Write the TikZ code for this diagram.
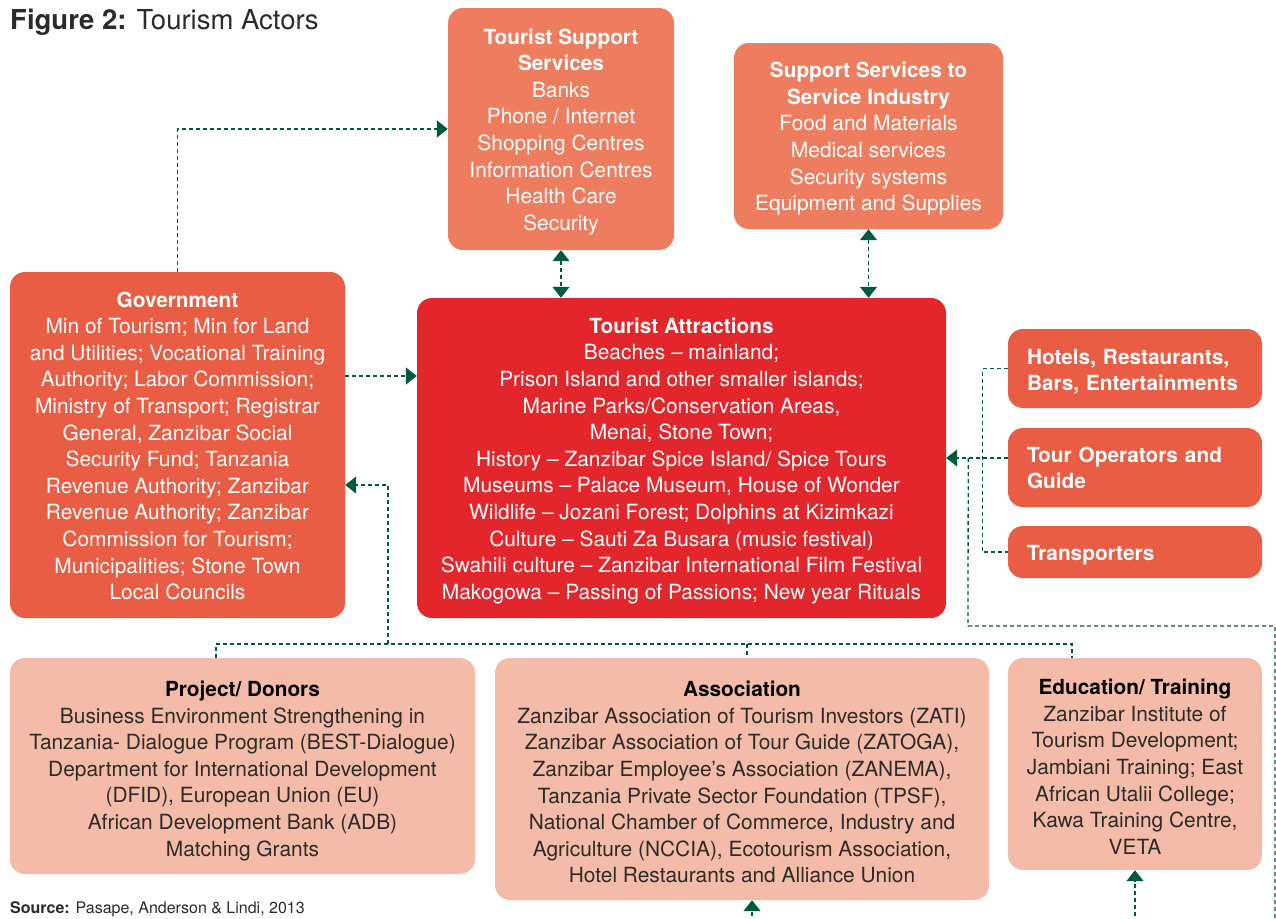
\documentclass[tikz,border=0pt]{standalone}
\usepackage{fontspec}
\setmainfont{TeX Gyre Heros}
\usetikzlibrary{arrows.meta,positioning}
\definecolor{supp}{HTML}{EE7D60}
\definecolor{govc}{HTML}{E85D43}
\definecolor{attr}{HTML}{E3262B}
\definecolor{base}{HTML}{F4BCA8}
\definecolor{lnk}{HTML}{005A3C}
\definecolor{ink}{HTML}{2B2B2B}
\newcommand{\boxfont}{\fontsize{20.9}{26.6}\selectfont}
% heading line; the strut sets how far the block sits down in its box
\newcommand{\hd}[2][21pt]{\rule{0pt}{#1}\textbf{\fontsize{20.8}{26.6}\selectfont #2}}
\tikzset{
  actor/.style={rounded corners=15pt, align=center, inner sep=0pt, font=\boxfont},
  supbox/.style={actor, fill=supp, text=white},
  govbox/.style={actor, fill=govc, text=white},
  attbox/.style={actor, fill=attr, text=white},
  sidebox/.style={actor, fill=govc, text=white, align=left, inner xsep=19pt, text width=216pt},
  basebox/.style={actor, fill=base, text=ink},
  link/.style={lnk, line width=1.3pt, dash pattern=on 4pt off 3pt},
  gtri/.tip={Triangle[width=17pt,length=11pt]},
}

\begin{document}
\begin{tikzpicture}[x=1pt,y=-1pt]
 \useasboundingbox (0,0) rectangle (1276,918);
 \node[anchor=base west, inner sep=0pt, text=ink, font=\fontsize{27.5}{33}\selectfont] (title) at (10,29) {\textbf{Figure 2:} Tourism Actors};
 % top row
 \node[supbox, minimum width=226pt, minimum height=242pt] (tss) at (561,129)
  {\hd{Tourist Support}\\\hd{Services}\\Banks\\Phone / Internet\\Shopping Centres\\Information Centres\\Health Care\\Security};
 \node[supbox, minimum width=269pt, minimum height=186pt] (sssi) at (868.5,136)
  {\hd{Support Services to}\\\hd{Service Industry}\\Food and Materials\\Medical services\\Security systems\\Equipment and Supplies};
 % middle row
 \node[govbox, minimum width=335pt, minimum height=346pt] (gov) at (177.5,445)
  {\hd[17pt]{Government}\\Min of Tourism; Min for Land\\and Utilities; Vocational Training\\Authority; Labor Commission;\\Ministry of Transport; Registrar\\General, Zanzibar Social\\Security Fund; Tanzania\\Revenue Authority; Zanzibar\\Revenue Authority; Zanzibar\\Commission for Tourism;\\Municipalities; Stone Town\\Local Councils};
 \node[attbox, minimum width=529pt, minimum height=320pt] (ta) at (681.5,458)
  {\hd{Tourist Attractions}\\Beaches -- mainland;\\Prison Island and other smaller islands;\\Marine Parks/Conservation Areas,\\Menai, Stone Town;\\History -- Zanzibar Spice Island/ Spice Tours\\Museums -- Palace Museum, House of Wonder\\Wildlife -- Jozani Forest; Dolphins at Kizimkazi\\Culture -- Sauti Za Busara (music festival)\\Swahili culture -- Zanzibar International Film Festival\\Makogowa -- Passing of Passions; New year Rituals};
 \node[sidebox, minimum height=79pt] (hotels) at (1135,368.5) {\hd[22pt]{Hotels, Restaurants,}\\\hd{Bars, Entertainments}};
 \node[sidebox, minimum height=79pt] (tour) at (1135,467.5) {\hd[16pt]{Tour Operators and}\\\hd{Guide}};
 \node[sidebox, minimum height=52pt] (trans) at (1135,552) {\hd{Transporters}};
 % bottom row
 \node[basebox, minimum width=465pt, minimum height=216pt] (proj) at (242.5,766)
  {\hd[25pt]{\color{black}Project/ Donors}\\Business Environment Strengthening in\\Tanzania- Dialogue Program (BEST-Dialogue)\\Department for International Development\\(DFID), European Union (EU)\\African Development Bank (ADB)\\Matching Grants};
 \node[basebox, minimum width=494pt, minimum height=242pt] (assoc) at (742,779)
  {\hd[22pt]{\color{black}Association}\\Zanzibar Association of Tourism Investors (ZATI)\\Zanzibar Association of Tour Guide (ZATOGA),\\Zanzibar Employee’s Association (ZANEMA),\\Tanzania Private Sector Foundation (TPSF),\\National Chamber of Commerce, Industry and\\Agriculture (NCCIA), Ecotourism Association,\\Hotel Restaurants and Alliance Union};
 \node[basebox, minimum width=254pt, minimum height=212pt] (edu) at (1135,764)
  {\hd{\color{black}Education/ Training}\\Zanzibar Institute of\\Tourism Development;\\Jambiani Training; East\\African Utalii College;\\Kawa Training Centre,\\VETA};
 \node[anchor=base west, inner sep=0pt, text=ink, font=\fontsize{16}{19}\selectfont] (src) at (10,913) {\textbf{Source:} Pasape, Anderson \& Lindi, 2013};
 % links between actors
 \draw[link,-gtri] (gov.north) |- (tss.west);
 \path ([yshift=69pt]gov.east) coordinate (g1);
 \draw[link,-gtri] (g1) -- (g1 -| ta.west);
 \draw[link,gtri-gtri] (tss.south) -- (tss.south |- ta.north);
 \draw[link,gtri-gtri] (sssi.south) -- (sssi.south |- ta.north);
 \draw[link] (hotels.west) -| ([xshift=-25pt]tour.west) |- (trans.west);
 \draw[link,-gtri] (ta.east -| tour.west) -- (ta.east);
 \coordinate (tap) at ([xshift=22pt]ta.east);
 \coordinate (rturn) at (968,626);
 \coordinate (rin) at (1275,930);
 \draw[link] (tap) -- (rturn) -| (rin);
 % bus along the bottom row
 \coordinate (busl) at (216,644);
 \coordinate (busg) at (388,644);
 \coordinate (busm) at (747,644);
 \coordinate (busr) at (1072,644);
 \draw[link] (busl |- proj.north) -- (busl) -- (busr) -- (busr |- edu.north);
 \draw[link] (busm) -- (busm |- assoc.north);
 \draw[link,-gtri] (busg) |- ([yshift=-40pt]gov.east);
 \coordinate (ain) at (752,930);
 \coordinate (ein) at (1135,930);
 \draw[link,-gtri] (ain) -- (ain |- assoc.south);
 \draw[link,-gtri] (ein) -- (edu.south);
\end{tikzpicture}
\end{document}
